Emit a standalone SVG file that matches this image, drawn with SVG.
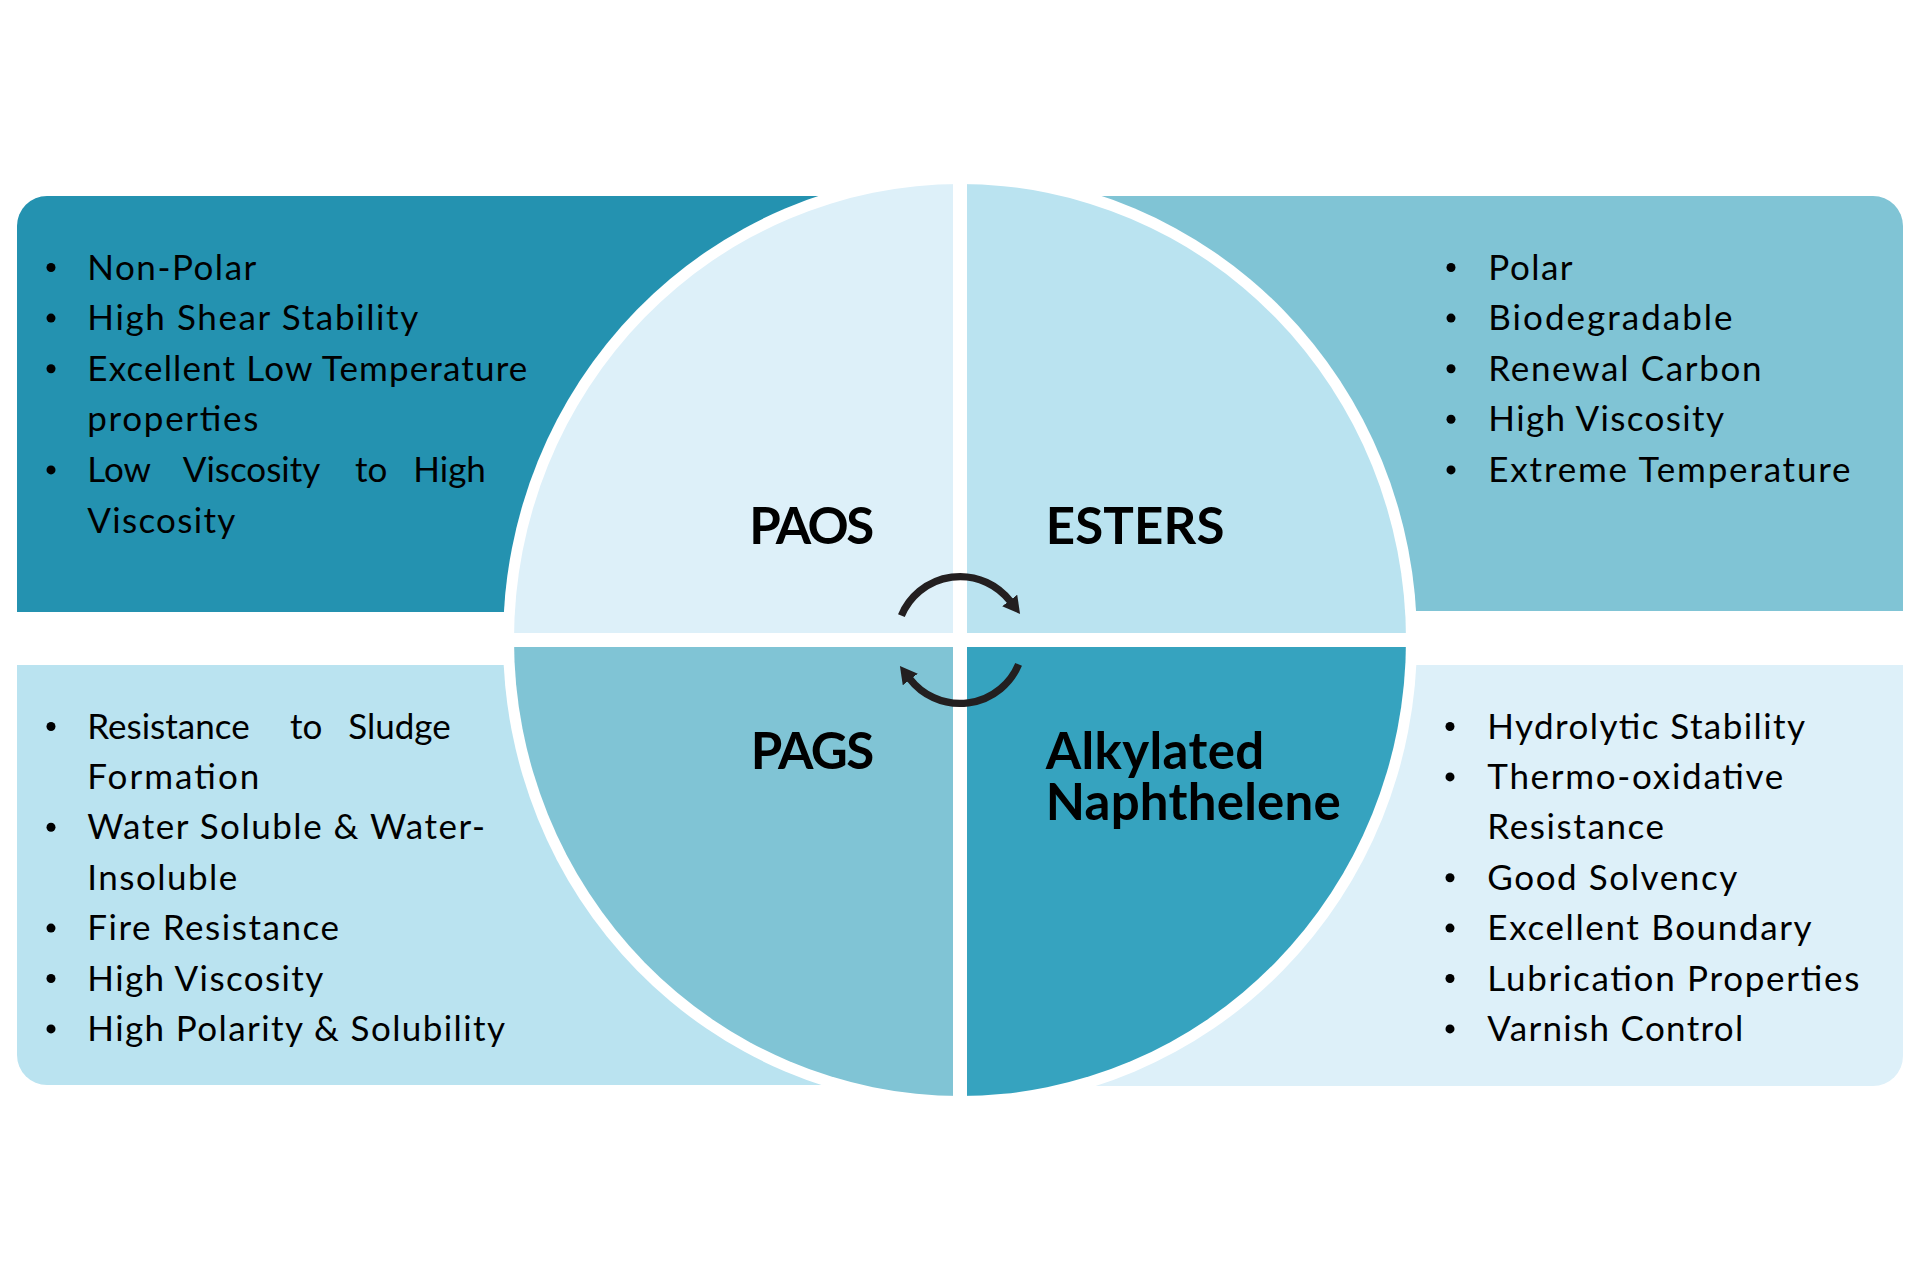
<svg xmlns="http://www.w3.org/2000/svg" width="1920" height="1280" viewBox="0 0 1920 1280">
  <defs>
    <style>
      .item { font-family: Lato, "Open Sans", "Liberation Sans", sans-serif; font-size: 35px; fill: #000; }
      .label { font-family: Lato, "Open Sans", "Liberation Sans", sans-serif; font-size: 51px; font-weight: 700; fill: #000; }
      .bullet { fill: #000; }
      .ring { fill: #fff; }
      .gap { fill: #fff; }
      .arc { fill: none; stroke: #231f20; stroke-width: 7.3; }
    </style>
    <marker id="head" viewBox="0 0 17 19" refX="1" refY="9.5" markerWidth="17" markerHeight="19" markerUnits="userSpaceOnUse" orient="auto">
      <path d="M0,0 L17,9.5 L0,19 Z" fill="#231f20"/>
    </marker>
  </defs>
  <rect width="1920" height="1280" fill="#fff"/>

  <g id="box-paos">
    <path d="M47 196 H900 V612 H17 V226 A30 30 0 0 1 47 196 Z" fill="#2492b0"/>
    <circle class="bullet" cx="51" cy="267.5" r="4.5"/>
    <circle class="bullet" cx="51" cy="318.1" r="4.5"/>
    <circle class="bullet" cx="51" cy="368.7" r="4.5"/>
    <circle class="bullet" cx="51" cy="469.9" r="4.5"/>
    <text class="item" x="87.3" y="279.5" textLength="169">Non-Polar</text>
    <text class="item" x="87.3" y="330.1" textLength="331">High Shear Stability</text>
    <text class="item" x="87.3" y="380.7" textLength="440">Excellent Low Temperature</text>
    <text class="item" x="87.3" y="431.3" textLength="171">properties</text>
    <text class="item" y="481.9"><tspan x="87.3">Low</tspan><tspan x="182.7">Viscosity</tspan><tspan x="355">to</tspan><tspan x="413.3">High</tspan></text>
    <text class="item" x="87.3" y="532.5" textLength="148">Viscosity</text>
  </g>

  <g id="box-esters">
    <path d="M1020 196 H1873 A30 30 0 0 1 1903 226 V611 H1020 Z" fill="#80c4d5"/>
    <circle class="bullet" cx="1451" cy="267.5" r="4.5"/>
    <circle class="bullet" cx="1451" cy="318.1" r="4.5"/>
    <circle class="bullet" cx="1451" cy="368.7" r="4.5"/>
    <circle class="bullet" cx="1451" cy="419.3" r="4.5"/>
    <circle class="bullet" cx="1451" cy="469.9" r="4.5"/>
    <text class="item" x="1488.3" y="279.5" textLength="84.3">Polar</text>
    <text class="item" x="1488.3" y="330.1" textLength="244.3">Biodegradable</text>
    <text class="item" x="1488.3" y="380.7" textLength="273.3">Renewal Carbon</text>
    <text class="item" x="1488.3" y="431.3" textLength="235.7">High Viscosity</text>
    <text class="item" x="1488.3" y="481.9" textLength="362.3">Extreme Temperature</text>
  </g>

  <g id="box-pags">
    <path d="M17 665 H900 V1085 H47 A30 30 0 0 1 17 1055 Z" fill="#bae3f0"/>
    <circle class="bullet" cx="51" cy="726.5" r="4.5"/>
    <circle class="bullet" cx="51" cy="827.3" r="4.5"/>
    <circle class="bullet" cx="51" cy="928.1" r="4.5"/>
    <circle class="bullet" cx="51" cy="978.5" r="4.5"/>
    <circle class="bullet" cx="51" cy="1028.9" r="4.5"/>
    <text class="item" y="738.5"><tspan x="87.3">Resistance</tspan><tspan x="290">to</tspan><tspan x="348.3">Sludge</tspan></text>
    <text class="item" x="87.3" y="788.9" textLength="172">Formation</text>
    <text class="item" x="87.3" y="839.3" textLength="397.7">Water Soluble &amp; Water-</text>
    <text class="item" x="87.3" y="889.7" textLength="150">Insoluble</text>
    <text class="item" x="87.3" y="940.1" textLength="251.7">Fire Resistance</text>
    <text class="item" x="87.3" y="990.5" textLength="236">High Viscosity</text>
    <text class="item" x="87.3" y="1040.9" textLength="417.7">High Polarity &amp; Solubility</text>
  </g>

  <g id="box-alkylated">
    <path d="M1020 665 H1903 V1056 A30 30 0 0 1 1873 1086 H1020 Z" fill="#ddf0f9"/>
    <circle class="bullet" cx="1450" cy="726.5" r="4.5"/>
    <circle class="bullet" cx="1450" cy="776.9" r="4.5"/>
    <circle class="bullet" cx="1450" cy="877.7" r="4.5"/>
    <circle class="bullet" cx="1450" cy="928.1" r="4.5"/>
    <circle class="bullet" cx="1450" cy="978.5" r="4.5"/>
    <circle class="bullet" cx="1450" cy="1028.9" r="4.5"/>
    <text class="item" x="1487.3" y="738.5" textLength="317.7">Hydrolytic Stability</text>
    <text class="item" x="1487.3" y="788.9" textLength="296">Thermo-oxidative</text>
    <text class="item" x="1487.3" y="839.3" textLength="176.7">Resistance</text>
    <text class="item" x="1487.3" y="889.7" textLength="250">Good Solvency</text>
    <text class="item" x="1487.3" y="940.1" textLength="324.3">Excellent Boundary</text>
    <text class="item" x="1487.3" y="990.5" textLength="372">Lubrication Properties</text>
    <text class="item" x="1487.3" y="1040.9" textLength="256">Varnish Control</text>
  </g>

  <ellipse class="ring" cx="960" cy="640" rx="457" ry="467"/>

  <g id="quadrant-paos">
    <path d="M960 640 H514 A446 456 0 0 1 960 184 Z" fill="#ddf0f9"/>
  </g>
  <g id="quadrant-esters">
    <path d="M960 640 V184 A446 456 0 0 1 1406 640 Z" fill="#bae3f0"/>
  </g>
  <g id="quadrant-pags">
    <path d="M960 640 V1096 A446 456 0 0 1 514 640 Z" fill="#80c4d5"/>
  </g>
  <g id="quadrant-alkylated">
    <path d="M960 640 H1406 A446 456 0 0 1 960 1096 Z" fill="#36a3bf"/>
  </g>

  <rect class="gap" x="953" y="170" width="14" height="940"/>
  <rect class="gap" x="500" y="633" width="920" height="14"/>

  <g id="labels">
    <text class="label" x="749.3" y="544" textLength="125">PAOS</text>
    <text class="label" x="1045.7" y="543.5" textLength="178.8">ESTERS</text>
    <text class="label" x="750.7" y="769" textLength="123.6">PAGS</text>
    <text class="label"><tspan x="1045.7" y="769" textLength="218.6">Alkylated</tspan><tspan x="1045.7" y="820" textLength="295">Naphthelene</tspan></text>
  </g>

  <g id="connectors">
    <path class="arc" d="M901.4 615.6 A63.5 63.5 0 0 1 1010.3 601.3" marker-end="url(#head)"/>
    <path class="arc" d="M1018.6 664.4 A63.5 63.5 0 0 1 909.7 678.7" marker-end="url(#head)"/>
  </g>
</svg>
